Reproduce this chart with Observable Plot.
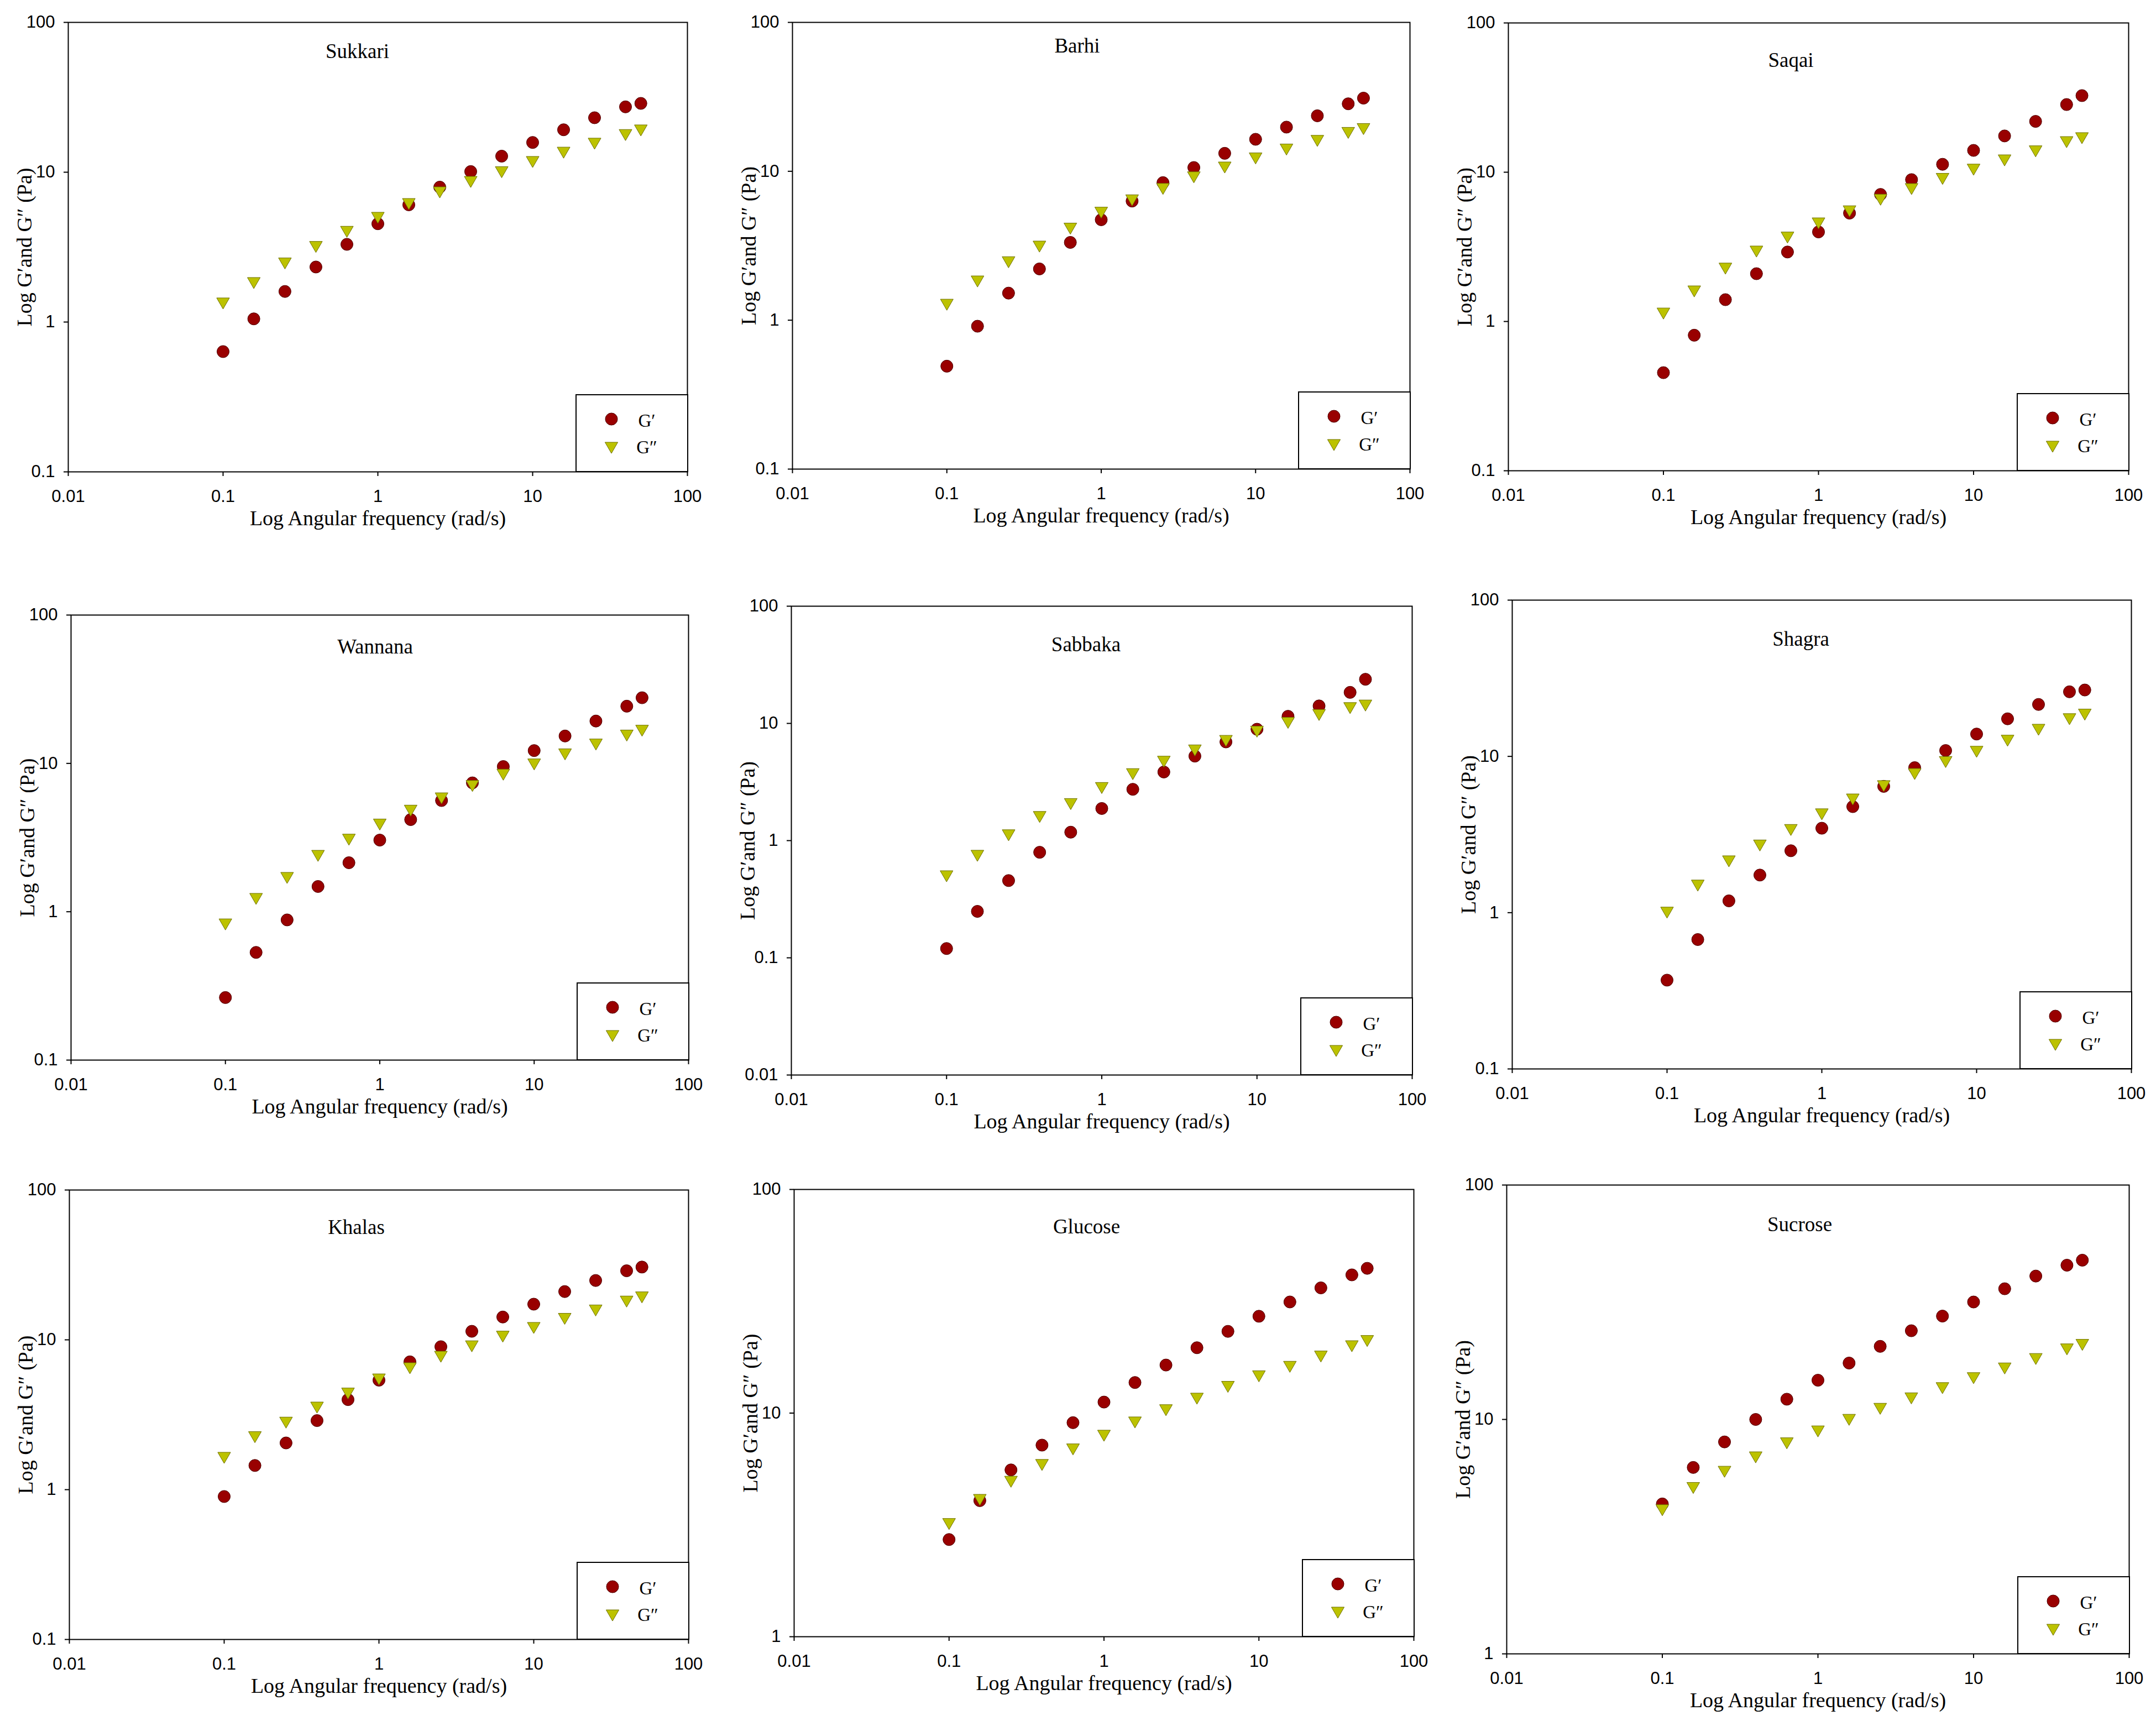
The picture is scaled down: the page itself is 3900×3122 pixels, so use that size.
<!DOCTYPE html>
<html>
<head>
<meta charset="utf-8">
<script src="https://cdn.jsdelivr.net/npm/d3@7"></script>
<script src="https://cdn.jsdelivr.net/npm/@observablehq/plot@0.6"></script>
<style>
  html, body { margin: 0; padding: 0; background: #fff; }
  #page { position: relative; width: 3900px; height: 3122px; background: #fff; overflow: hidden; }
  #page svg { position: absolute; overflow: visible; }
</style>
</head>
<body>
<div id="page"></div>
<script>
// ---------------- DATA ----------------
const freqs = [0.1, 0.158, 0.251, 0.398, 0.631, 1, 1.585, 2.512, 3.981, 6.31, 10, 15.85, 25.12, 39.81, 50];
const xTicks = [0.01, 0.1, 1, 10, 100];
const sampleNames = ["Sukkari", "Barhi", "Saqai", "Wannana", "Sabbaka", "Shagra", "Khalas", "Glucose", "Sucrose"];
const seriesNames = ["G\u2032", "G\u2033"];
const xTitle = "Log Angular frequency (rad/s)";
const yTitle = "Log G\u2032and G\u2033 (Pa)";

const sukkariG1 = [0.635, 1.05, 1.60, 2.33, 3.30, 4.53, 6.06, 7.95, 10.1, 12.8, 15.8, 19.2, 23.1, 27.3, 28.8];
const sukkariG2 = [1.33, 1.82, 2.46, 3.17, 4.0, 4.96, 6.13, 7.33, 8.61, 10.0, 11.7, 13.5, 15.5, 17.7, 19.0];
const barhiG1 = [0.491, 0.911, 1.52, 2.21, 3.33, 4.73, 6.31, 8.39, 10.6, 13.2, 16.4, 19.8, 23.6, 28.4, 31.0];
const barhiG2 = [1.27, 1.82, 2.45, 3.12, 4.12, 5.27, 6.38, 7.61, 9.11, 10.6, 12.2, 14.0, 16.0, 18.1, 19.2];
const saqaiG1 = [0.454, 0.809, 1.40, 2.09, 2.92, 3.98, 5.32, 7.10, 8.92, 11.3, 14.0, 17.5, 21.9, 28.4, 32.6];
const saqaiG2 = [1.13, 1.59, 2.26, 2.94, 3.65, 4.54, 5.47, 6.54, 7.71, 9.02, 10.4, 12.0, 13.8, 15.9, 16.9];
const wannanaG1 = [0.264, 0.532, 0.881, 1.48, 2.14, 3.04, 4.18, 5.62, 7.39, 9.52, 12.2, 15.3, 19.3, 24.3, 27.7];
const wannanaG2 = [0.821, 1.22, 1.69, 2.38, 3.06, 3.87, 4.80, 5.81, 7.04, 8.39, 9.84, 11.5, 13.4, 15.4, 16.6];
const sabbakaG1 = [0.120, 0.249, 0.456, 0.795, 1.18, 1.88, 2.74, 3.85, 5.26, 6.95, 8.92, 11.5, 14.1, 18.4, 23.8];
const sabbakaG2 = [0.496, 0.742, 1.11, 1.59, 2.05, 2.81, 3.69, 4.71, 5.88, 7.09, 8.50, 10.1, 11.8, 13.5, 14.2];
const shagraG1 = [0.370, 0.673, 1.19, 1.74, 2.49, 3.47, 4.77, 6.43, 8.47, 10.9, 13.9, 17.4, 21.5, 25.9, 26.6];
const shagraG2 = [1.0, 1.49, 2.13, 2.69, 3.38, 4.26, 5.30, 6.45, 7.71, 9.20, 10.7, 12.6, 14.8, 17.3, 18.5];
const khalasG1 = [0.900, 1.45, 2.05, 2.89, 3.99, 5.38, 7.13, 9.00, 11.4, 14.2, 17.3, 21.0, 24.9, 28.9, 30.6];
const khalasG2 = [1.63, 2.24, 2.80, 3.53, 4.38, 5.44, 6.46, 7.71, 9.05, 10.5, 12.0, 13.8, 15.7, 18.0, 19.2];
const glucoseG1 = [2.72, 4.06, 5.57, 7.19, 9.06, 11.2, 13.7, 16.4, 19.6, 23.2, 27.1, 31.4, 36.3, 41.5, 44.4];
const glucoseG2 = [3.19, 4.09, 4.93, 5.86, 6.88, 7.92, 9.08, 10.3, 11.6, 13.1, 14.6, 16.1, 17.9, 19.9, 21.0];
const sucroseG1 = [4.36, 6.24, 8.02, 10.0, 12.2, 14.7, 17.4, 20.5, 23.9, 27.6, 31.7, 36.1, 40.9, 45.5, 47.8];
const sucroseG2 = [4.10, 5.10, 5.98, 6.89, 7.91, 8.89, 9.96, 11.1, 12.3, 13.6, 15.0, 16.5, 18.1, 19.9, 20.8];

const g1Series = [sukkariG1, barhiG1, saqaiG1, wannanaG1, sabbakaG1, shagraG1, khalasG1, glucoseG1, sucroseG1];
const g2Series = [sukkariG2, barhiG2, saqaiG2, wannanaG2, sabbakaG2, shagraG2, khalasG2, glucoseG2, sucroseG2];
const yDomains = [[0.1, 100], [0.1, 100], [0.1, 100], [0.1, 100], [0.01, 100], [0.1, 100], [0.1, 100], [1, 100], [1, 100]];

// ---------------- LAYOUT (pixels, page coordinates) ----------------
// frame: [left, top, right, bottom]; title: offset of title centre from frame top-left
const frames = [
  [123, 40, 1243, 853], [1433, 40, 2550, 848], [2728, 41, 3850, 851],
  [128, 1112, 1245, 1917], [1431, 1096, 2554, 1944], [2735, 1085, 3855, 1933],
  [125, 2152, 1245, 2965], [1436, 2151, 2557, 2960], [2725, 2143, 3851, 2991]
];
const titleOffsets = [[523, 53], [515, 43], [511, 68], [550, 58], [533, 70], [522, 71], [519, 68], [529, 68], [530, 72]];

const M = {left: 150, right: 30, top: 30, bottom: 140};
const sansFont = "'Liberation Sans', Arial, sans-serif";
const serifFont = "'Liberation Serif', 'Times New Roman', serif";
const redFill = "#990000", redStroke = "#4d0000";
const yelFill = "#bcc200", yelStroke = "#6e7000";

// downward triangle centred on its bounding box
const triangleDown = {
  draw(context, size) {
    const y = Math.sqrt(size / (3 * Math.sqrt(3)));
    const w = Math.sqrt(3) * y;
    context.moveTo(-w, -1.5 * y);
    context.lineTo(w, -1.5 * y);
    context.lineTo(0, 1.5 * y);
    context.closePath();
  }
};

function legendMark(index, scales, values, dimensions) {
  const fr = dimensions.width - dimensions.marginRight;
  const fb = dimensions.height - dimensions.marginBottom;
  const g = d3.create("svg:g");
  const bx = fr - 201, by = fb - 139;
  g.append("rect").attr("x", bx).attr("y", by).attr("width", 202).attr("height", 139)
    .attr("fill", "white").attr("stroke", "black").attr("stroke-width", 2);
  g.append("circle").attr("cx", bx + 64).attr("cy", by + 44).attr("r", 11)
    .attr("fill", redFill).attr("stroke", redStroke).attr("stroke-width", 1);
  g.append("path").attr("transform", `translate(${bx + 64},${by + 96})`)
    .attr("d", d3.symbol(triangleDown, Math.PI * 8.6 * 8.6)())
    .attr("fill", yelFill).attr("stroke", yelStroke).attr("stroke-width", 1);
  [[seriesNames[0], by + 46], [seriesNames[1], by + 94]].forEach(([t, yy]) => {
    g.append("text").attr("x", bx + 128).attr("y", yy).attr("dy", "0.35em")
      .attr("font-family", serifFont).attr("font-size", 33).attr("fill", "black").text(t);
  });
  return g.node();
}

const page = document.getElementById("page");

sampleNames.forEach((name, i) => {
  const [fl, ft, fr, fb] = frames[i];
  const fw = fr - fl, fh = fb - ft;
  const d1 = freqs.map((f, k) => ({f, v: g1Series[i][k]}));
  const d2 = freqs.map((f, k) => ({f, v: g2Series[i][k]}));
  const yd = yDomains[i];
  const yTicks = xTicks.filter(t => t >= yd[0] - 1e-12 && t <= yd[1] + 1e-12);
  const [tdx, tdy] = titleOffsets[i];

  const svg = Plot.plot({
    width: fw + M.left + M.right,
    height: fh + M.top + M.bottom,
    marginLeft: M.left, marginRight: M.right, marginTop: M.top, marginBottom: M.bottom,
    x: {type: "log", domain: [0.01, 100]},
    y: {type: "log", domain: yd},
    style: {fontFamily: sansFont, fontSize: "31px", background: "transparent", color: "black"},
    marks: [
      Plot.axisX({ticks: xTicks, tickSize: 8, tickPadding: 24, tickFormat: d => String(d), label: null, fontSize: 31, strokeWidth: 2}),
      Plot.axisY({ticks: yTicks, tickSize: 8, tickPadding: 16, tickFormat: d => String(d), label: null, fontSize: 31, strokeWidth: 2}),
      Plot.frame({stroke: "black", strokeWidth: 2}),
      Plot.dot(d1, {x: "f", y: "v", symbol: "circle", r: 11, fill: redFill, stroke: redStroke, strokeWidth: 1}),
      Plot.dot(d2, {x: "f", y: "v", symbol: triangleDown, r: 8.6, fill: yelFill, stroke: yelStroke, strokeWidth: 1}),
      Plot.text([name], {frameAnchor: "top-left", lineAnchor: "middle", dx: tdx, dy: tdy, text: d => d, textAnchor: "middle",
        fontFamily: serifFont, fontSize: 37, fill: "black"}),
      Plot.text([xTitle], {frameAnchor: "bottom", lineAnchor: "middle", dy: 84, text: d => d, textAnchor: "middle",
        fontFamily: serifFont, fontSize: 38, fill: "black"}),
      Plot.text([yTitle], {frameAnchor: "left", lineAnchor: "middle", dx: -79, rotate: -90, text: d => d, textAnchor: "middle",
        fontFamily: serifFont, fontSize: 38, fill: "black"}),
      legendMark
    ]
  });
  svg.style.left = (fl - M.left) + "px";
  svg.style.top = (ft - M.top) + "px";
  page.appendChild(svg);
});
</script>
</body>
</html>
